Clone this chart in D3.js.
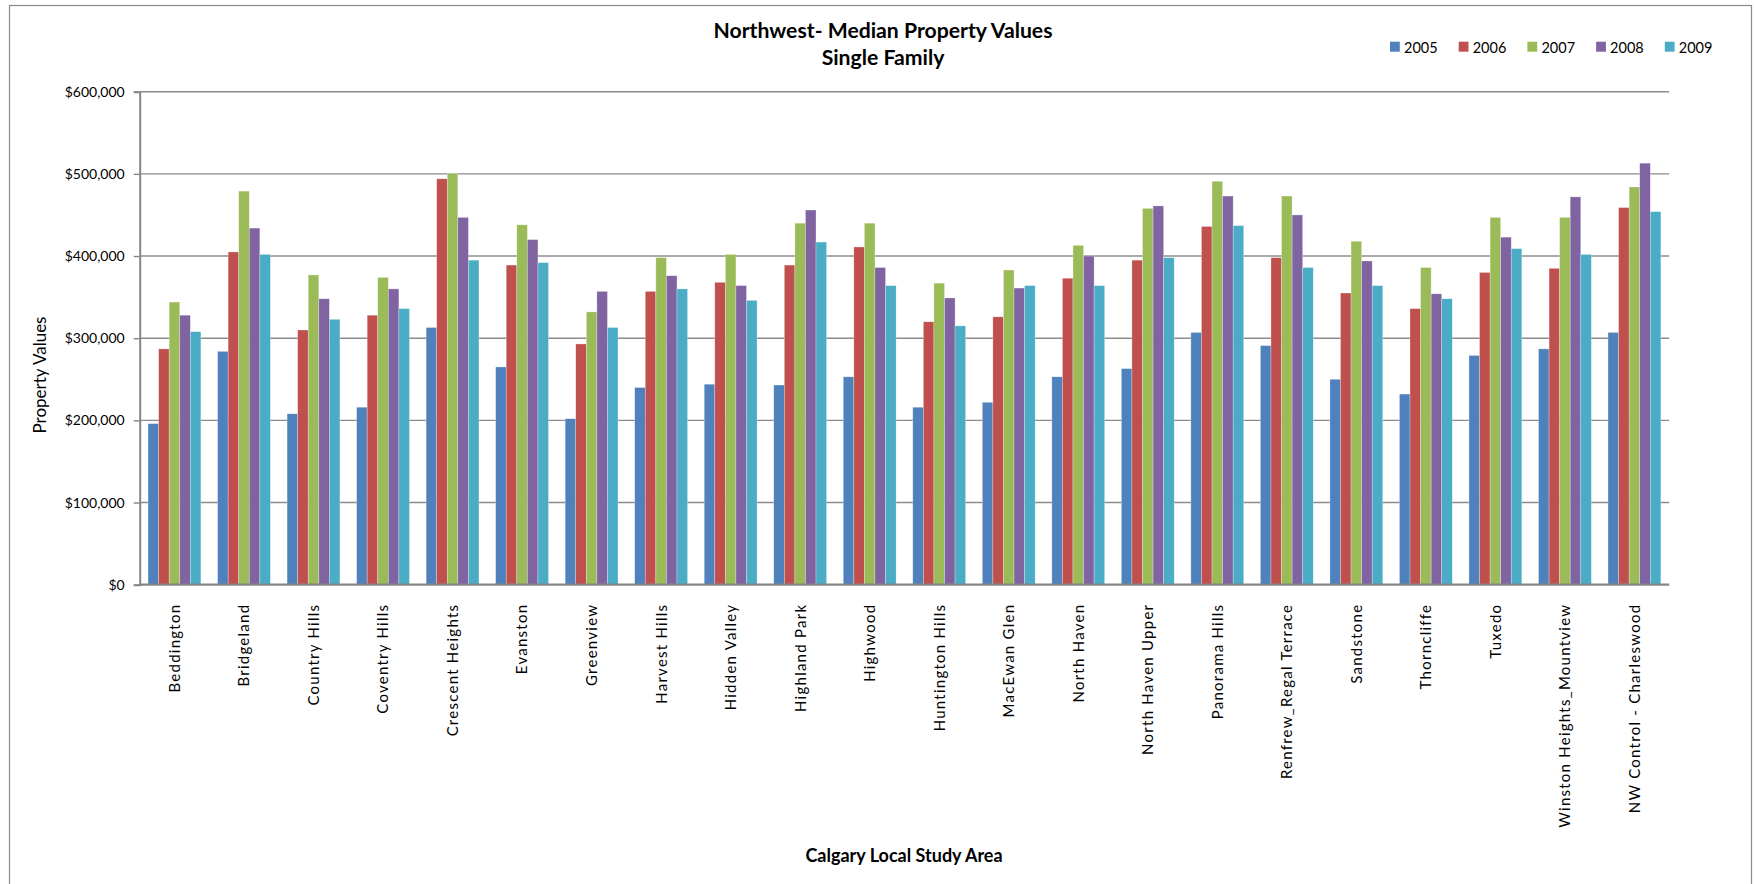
<!DOCTYPE html>
<html>
<head>
<meta charset="utf-8">
<script src="https://cdn.jsdelivr.net/npm/d3@7"></script>
<style>
  html, body { margin: 0; padding: 0; background: #fff; }
  svg { display: block; font-family: Lato, "Open Sans", sans-serif; }
</style>
</head>
<body>
<svg id="chart" width="1754" height="884"></svg>
<script>
// Median single-family property values by study area, 2005-2009
const areas = [
  "Beddington", "Bridgeland", "Country Hills", "Coventry Hills", "Crescent Heights",
  "Evanston", "Greenview", "Harvest Hills", "Hidden Valley", "Highland Park",
  "Highwood", "Huntington Hills", "MacEwan Glen", "North Haven", "North Haven Upper",
  "Panorama Hills", "Renfrew_Regal Terrace", "Sandstone", "Thorncliffe", "Tuxedo",
  "Winston Heights_Mountview", "NW Control  -  Charleswood"
];
const years = ["2005", "2006", "2007", "2008", "2009"];

const v2005 = [196000, 284000, 208000, 216000, 313000, 265000, 202000, 240000, 244000, 243000, 253000,
               216000, 222000, 253000, 263000, 307000, 291000, 250000, 232000, 279000, 287000, 307000];
const v2006 = [287000, 405000, 310000, 328000, 494000, 389000, 293000, 357000, 368000, 389000, 411000,
               320000, 326000, 373000, 395000, 436000, 398000, 355000, 336000, 380000, 385000, 459000];
const v2007 = [344000, 479000, 377000, 374000, 500500, 438000, 332000, 398000, 402000, 440000, 440000,
               367000, 383000, 413000, 458000, 491000, 473000, 418000, 386000, 447000, 447000, 484000];
const v2008 = [328000, 434000, 348000, 360000, 447000, 420000, 357000, 376000, 364000, 456000, 386000,
               349000, 361000, 400000, 461000, 473000, 450000, 394000, 354000, 423000, 472000, 513000];
const v2009 = [308000, 402000, 323000, 336000, 395000, 392000, 313000, 360000, 346000, 417000, 364000,
               315000, 364000, 364000, 398000, 437000, 386000, 364000, 348000, 409000, 402000, 454000];

const yTicks = [0, 100000, 200000, 300000, 400000, 500000, 600000];
const colors = ["#4F81BD", "#C0504D", "#9BBB59", "#8064A2", "#4BACC6"];

const seriesValues = [v2005, v2006, v2007, v2008, v2009];

const svg = d3.select("#chart");
const plot = { left: 139.7, right: 1669.2, top: 91.7, bottom: 584.7 };

// outer chart frame
svg.append("rect")
  .attr("x", 9.5).attr("y", 5.5)
  .attr("width", 1742).attr("height", 890)
  .attr("fill", "#fff").attr("stroke", "#8a8a8a").attr("stroke-width", 1.2);

const x0 = d3.scaleBand()
  .domain(areas)
  .range([plot.left, plot.right])
  .paddingInner(0.24)
  .paddingOuter(0.12);

const x1 = d3.scaleBand()
  .domain(years)
  .range([0, x0.bandwidth()]);

const y = d3.scaleLinear()
  .domain([0, 600000])
  .range([plot.bottom, plot.top]);

const color = d3.scaleOrdinal().domain(years).range(colors);

// horizontal gridlines
svg.append("g")
  .selectAll("line")
  .data(yTicks.filter(d => d > 0))
  .join("line")
  .attr("x1", plot.left).attr("x2", plot.right)
  .attr("y1", d => y(d)).attr("y2", d => y(d))
  .attr("stroke", "#8c8c8c").attr("stroke-width", 1.4);

// bars
const rows = areas.map((a, i) => ({ area: a, vals: years.map((yr, k) => ({ year: yr, value: seriesValues[k][i] })) }));

const groups = svg.append("g")
  .selectAll("g")
  .data(rows)
  .join("g")
  .attr("transform", d => `translate(${x0(d.area)},0)`);

groups.selectAll("rect")
  .data(d => d.vals)
  .join("rect")
  .attr("x", d => x1(d.year))
  .attr("y", d => y(d.value))
  .attr("width", x1.bandwidth())
  .attr("height", d => y(0) - y(d.value))
  .attr("fill", d => color(d.year))
  .attr("stroke", "rgba(255,255,255,0.45)")
  .attr("stroke-width", 0.6);

// y axis
const yAxis = svg.append("g")
  .attr("transform", `translate(${plot.left},0)`)
  .call(d3.axisLeft(y).tickValues(yTicks).tickSize(6).tickPadding(9)
    .tickFormat(d => "$" + d3.format(",")(d)));
yAxis.select(".domain").attr("stroke", "#868686").attr("stroke-width", 2);
yAxis.selectAll(".tick line").attr("stroke", "#868686").attr("stroke-width", 1.4);
yAxis.selectAll(".tick text")
  .attr("font-family", "Lato, sans-serif")
  .attr("font-size", 14)
  .attr("fill", "#000");

// x axis baseline
svg.append("line")
  .attr("x1", plot.left).attr("x2", plot.right)
  .attr("y1", plot.bottom).attr("y2", plot.bottom)
  .attr("stroke", "#868686").attr("stroke-width", 2.2);

// category labels, rotated
const xAxis = svg.append("g")
  .attr("transform", `translate(0,${plot.bottom})`)
  .call(d3.axisBottom(x0).tickSize(0).tickPadding(0));
xAxis.select(".domain").remove();
xAxis.selectAll(".tick text")
  .attr("transform", "translate(0,19) rotate(-90)")
  .attr("x", 0).attr("y", 0).attr("dy", "0.36em")
  .attr("text-anchor", "end")
  .attr("font-family", "Lato, sans-serif")
  .attr("font-size", 15)
  .attr("letter-spacing", "1.25px")
  .attr("fill", "#000");

// titles
const title = svg.append("text")
  .attr("x", 883).attr("text-anchor", "middle")
  .attr("font-family", "Lato, sans-serif").attr("font-weight", "bold")
  .attr("font-size", 21.2).attr("fill", "#000");
title.append("tspan").attr("x", 883).attr("y", 38).text("Northwest- Median Property Values");
title.append("tspan").attr("x", 883).attr("y", 65).text("Single Family");

svg.append("text")
  .attr("transform", "translate(46,375) rotate(-90)")
  .attr("text-anchor", "middle")
  .attr("font-family", "Lato, sans-serif")
  .attr("font-size", 17).attr("fill", "#000")
  .text("Property Values");

svg.append("text")
  .attr("x", 904).attr("y", 862)
  .attr("text-anchor", "middle")
  .attr("font-family", "Lato, sans-serif").attr("font-weight", "bold")
  .attr("font-size", 18).attr("fill", "#000")
  .text("Calgary Local Study Area");

// legend
const legend = svg.append("g").attr("transform", "translate(1390,0)");
const item = legend.selectAll("g")
  .data(years)
  .join("g")
  .attr("transform", (d, i) => `translate(${i * 68.7},0)`);
item.append("rect")
  .attr("x", 0).attr("y", 41.7)
  .attr("width", 9.8).attr("height", 10)
  .attr("fill", d => color(d));
item.append("text")
  .attr("x", 14).attr("y", 52.5)
  .attr("font-family", "Lato, sans-serif")
  .attr("font-size", 14.5).attr("fill", "#000")
  .text(d => d);
</script>
</body>
</html>
